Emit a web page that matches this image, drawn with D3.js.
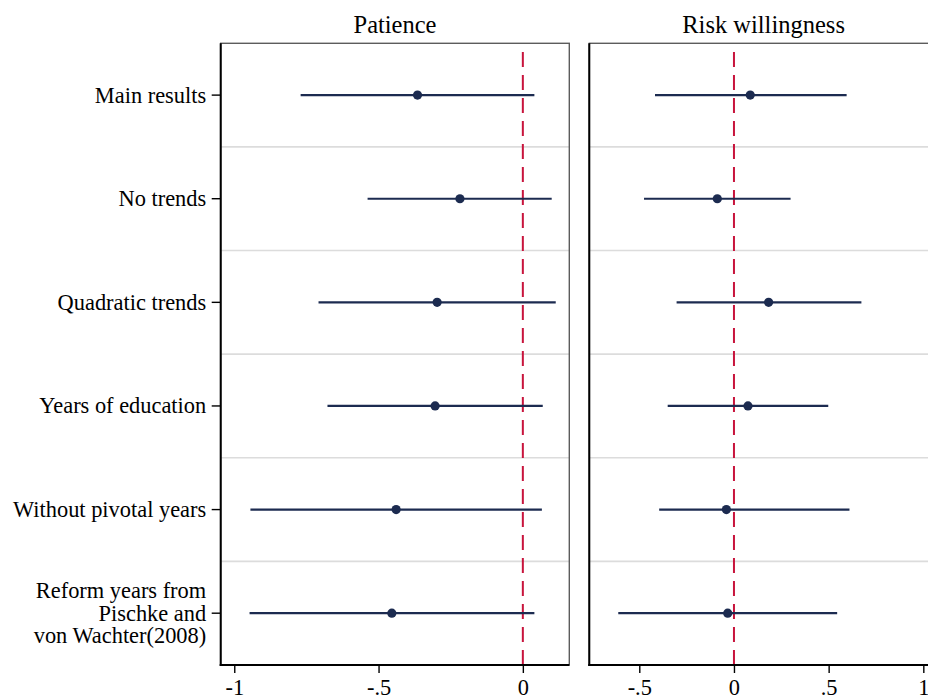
<!DOCTYPE html>
<html>
<head>
<meta charset="utf-8">
<script src="https://cdn.jsdelivr.net/npm/d3@7/dist/d3.min.js"></script>
<style>
  html, body { margin: 0; padding: 0; background: #fff; }
  svg { display: block; }
  text { font-family: "Liberation Serif", "Times New Roman", serif; fill: #000; }
</style>
</head>
<body>
<div id="chart"></div>
<script>
'use strict';

// specifications (rows, top to bottom)
const categories = [
  'Main results',
  'No trends',
  'Quadratic trends',
  'Years of education',
  'Without pivotal years',
  'Reform years from|Pischke and|von Wachter(2008)'
];

// patience: point estimate and 95% CI
const patienceEst = [-0.365, -0.218, -0.297, -0.304, -0.439, -0.454];
const patienceLo  = [-0.770, -0.538, -0.708, -0.677, -0.944, -0.947];
const patienceHi  = [ 0.040,  0.100,  0.114,  0.069,  0.066,  0.040];

// risk willingness: point estimate and 95% CI
const riskEst = [ 0.086, -0.088,  0.183,  0.074, -0.040, -0.033];
const riskLo  = [-0.417, -0.475, -0.303, -0.350, -0.395, -0.611];
const riskHi  = [ 0.595,  0.299,  0.673,  0.498,  0.610,  0.545];

const patienceTicks = [-1, -0.5, 0];
const riskTicks = [-0.5, 0, 0.5, 1];

const width = 928, height = 699;
const plotTop = 43.3, plotBottom = 665;
const navy = '#1c2b50', red = '#c8143c';
const serif = '"Liberation Serif", "Times New Roman", serif';

const svg = d3.select('#chart').append('svg')
    .attr('width', width)
    .attr('height', height)
    .attr('font-family', serif);

const y = d3.scaleBand()
    .domain(categories)
    .range([plotTop, plotBottom]);

// stata style: -.5 instead of -0.5
const fmt = v => v === 0 ? '0' : (v < 0 ? '-' : '') + String(Math.abs(v)).replace(/^0/, '');

const panels = [
  { title: 'Patience', left: 220.7, right: 569.3, domain: [-1.047, 0.161],
    ticks: patienceTicks, est: patienceEst, lo: patienceLo, hi: patienceHi, labels: true },
  { title: 'Risk willingness', left: 589.3, right: 937.9, domain: [-0.764, 1.077],
    ticks: riskTicks, est: riskEst, lo: riskLo, hi: riskHi, labels: false }
];

panels.forEach(p => {
  const x = d3.scaleLinear().domain(p.domain).range([p.left, p.right]);
  const g = svg.append('g');

  const rows = categories.map((c, i) => ({ cat: c, est: p.est[i], lo: p.lo[i], hi: p.hi[i] }));

  // gridlines between rows
  g.selectAll('.grid')
      .data(categories.slice(1))
    .enter().append('line')
      .attr('x1', p.left).attr('x2', p.right)
      .attr('y1', d => y(d)).attr('y2', d => y(d))
      .style('stroke', '#dcdcdc')
      .style('stroke-width', 1.6);

  // plot region outline
  g.append('rect')
      .attr('x', p.left).attr('y', plotTop)
      .attr('width', p.right - p.left).attr('height', plotBottom - plotTop)
      .style('fill', 'none')
      .style('stroke', '#5c5c5c')
      .style('stroke-width', 1.4);

  // reference line at zero, dashes anchored at the bottom
  g.append('line')
      .attr('x1', x(0)).attr('x2', x(0))
      .attr('y1', plotBottom).attr('y2', plotTop + 6)
      .style('stroke', red)
      .style('stroke-width', 2)
      .style('stroke-dasharray', '15,8');

  // confidence intervals
  g.selectAll('.ci')
      .data(rows)
    .enter().append('line')
      .attr('class', 'ci')
      .attr('x1', d => x(d.lo)).attr('x2', d => x(d.hi))
      .attr('y1', d => y(d.cat) + y.bandwidth() / 2)
      .attr('y2', d => y(d.cat) + y.bandwidth() / 2)
      .style('stroke', navy)
      .style('stroke-width', 2.2);

  // point estimates
  g.selectAll('.pt')
      .data(rows)
    .enter().append('circle')
      .attr('class', 'pt')
      .attr('cx', d => x(d.est))
      .attr('cy', d => y(d.cat) + y.bandwidth() / 2)
      .attr('r', 4.6)
      .style('fill', navy);

  // x axis
  const xAxis = d3.axisBottom(x).tickValues(p.ticks).tickFormat(fmt).tickSize(8).tickPadding(6);
  const ax = g.append('g')
      .attr('transform', `translate(0, ${plotBottom})`)
      .call(xAxis)
      .attr('font-family', serif);
  ax.select('.domain').remove();
  ax.selectAll('line').style('stroke', '#000').style('stroke-width', 1.4);
  ax.selectAll('text')
      .style('font-size', '22.4px')
      .style('font-family', serif);

  // axis lines (left and bottom) in black
  g.append('line')
      .attr('x1', p.left).attr('x2', p.left)
      .attr('y1', plotTop).attr('y2', plotBottom + 1)
      .style('stroke', '#000').style('stroke-width', 2);
  g.append('line')
      .attr('x1', p.left - 1).attr('x2', p.right)
      .attr('y1', plotBottom).attr('y2', plotBottom)
      .style('stroke', '#000').style('stroke-width', 2);

  if (p.labels) {
    // y ticks only on the first panel
    g.selectAll('.ytick')
        .data(categories)
      .enter().append('line')
        .attr('x1', p.left - 9).attr('x2', p.left)
        .attr('y1', d => y(d) + y.bandwidth() / 2)
        .attr('y2', d => y(d) + y.bandwidth() / 2)
        .style('stroke', '#000').style('stroke-width', 1.4);

    const lab = g.selectAll('.ylab')
        .data(categories)
      .enter().append('text')
        .attr('text-anchor', 'end')
        .style('font-size', '22.4px');
    lab.each(function(d) {
      const lines = d.split('|');
      const cy = y(d) + y.bandwidth() / 2;
      const lh = 22.6;
      const first = cy - (lines.length - 1) * lh / 2 + 7.5;
      d3.select(this).selectAll('tspan')
          .data(lines)
        .enter().append('tspan')
          .attr('x', p.left - 14.5)
          .attr('y', (l, i) => first + i * lh)
          .text(l => l);
    });
  }

  // panel title
  g.append('text')
      .attr('x', (p.left + p.right) / 2)
      .attr('y', 32.5)
      .attr('text-anchor', 'middle')
      .style('font-size', '24.5px')
      .text(p.title);
});
</script>
</body>
</html>
